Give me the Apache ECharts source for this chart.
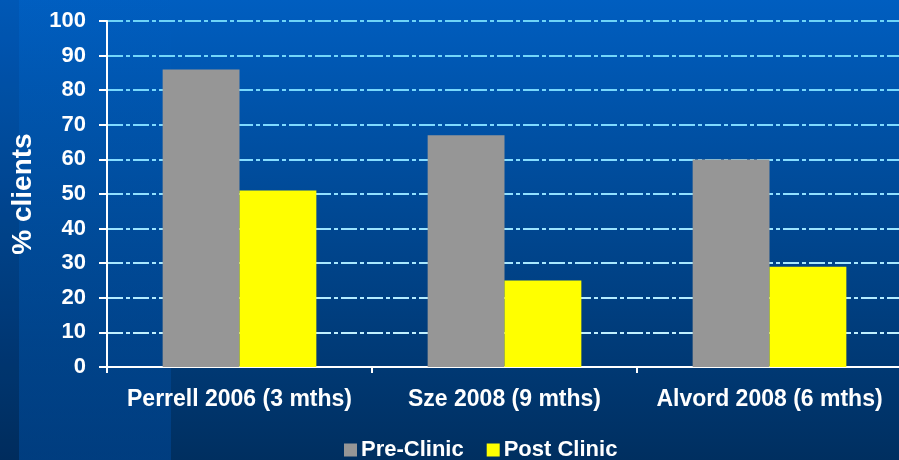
<!DOCTYPE html>
<html>
<head>
<meta charset="utf-8">
<script src="https://cdn.jsdelivr.net/npm/echarts@6/dist/echarts.min.js"></script>
<style>
  html, body { margin: 0; padding: 0; background: #00305f; }
  #chart { width: 899px; height: 460px; }
</style>
</head>
<body>
<div id="chart"></div>
<script>
// Study labels along the x axis
const studies = ['Perrell 2006 (3 mths)', 'Sze 2008 (9 mths)', 'Alvord 2008 (6 mths)'];
// Percentage of clients before and after the clinic
const preClinic = [86, 67, 60];
const postClinic = [51, 25, 29];
const seriesNames = ['Pre-Clinic', 'Post Clinic'];
// Y axis range
const yMin = 0;
const yMax = 100;
const yStep = 10;

// Dash-dot gridlines, brighter toward the bottom of the plot
const gridColors = ['#c8f2ff', '#c0f0ff', '#b4ecff', '#a8e8ff', '#9ce4ff', '#90e0ff', '#86ddff', '#7edaff', '#78d8fc', '#72d6fa', '#6ed4f8'];

const chart = echarts.init(document.getElementById('chart'), null, { renderer: 'canvas' });
const font = '"Liberation Sans", Arial, sans-serif';

chart.setOption({
  animation: false,
  backgroundColor: {
    type: 'linear', x: 0, y: 0, x2: 0, y2: 1,
    colorStops: [
      { offset: 0, color: '#005ec0' },
      { offset: 1, color: '#002f60' }
    ]
  },
  graphic: [
    {
      type: 'rect', z: -10, silent: true,
      shape: { x: 19, y: 0, width: 152, height: 460 },
      style: {
        fill: {
          type: 'linear', x: 0, y: 0, x2: 0, y2: 1,
          colorStops: [
            { offset: 0, color: 'rgba(0,100,200,0.04)' },
            { offset: 1, color: 'rgba(0,80,170,0.42)' }
          ]
        }
      }
    },
    {
      type: 'rect', z: -10, silent: true,
      shape: { x: 0, y: 0, width: 19, height: 460 },
      style: { fill: 'rgba(0,20,60,0.07)' }
    }
  ],
  grid: { left: 107, top: 21, right: -3, bottom: 93, containLabel: false, outerBoundsMode: 'none' },
  legend: {
    data: seriesNames,
    left: 339,
    top: 434,
    itemWidth: 13,
    itemHeight: 13,
    itemGap: 23,
    icon: 'rect',
    textStyle: { color: '#ffffff', fontSize: 22, fontWeight: 'bold', fontFamily: font, padding: [0, 0, 0, -1] }
  },
  xAxis: {
    type: 'category',
    data: studies,
    axisLine: { lineStyle: { color: '#ffffff', width: 2 } },
    axisTick: { show: true, length: 6, lineStyle: { color: '#ffffff', width: 2 } },
    axisLabel: { interval: 0, color: '#ffffff', fontSize: 23, fontWeight: 'bold', fontFamily: font, margin: 21 },
    splitLine: { show: false }
  },
  yAxis: {
    type: 'value',
    min: yMin,
    max: yMax,
    interval: yStep,
    name: '% clients',
    nameLocation: 'middle',
    nameGap: 70,
    nameRotate: 90,
    nameTextStyle: { color: '#ffffff', fontSize: 28, fontWeight: 'bold', fontFamily: font },
    axisLine: { show: true, lineStyle: { color: '#ffffff', width: 2 } },
    axisTick: { show: true, length: 8, lineStyle: { color: '#ffffff', width: 2 } },
    axisLabel: { color: '#ffffff', fontSize: 22, fontWeight: 'bold', fontFamily: font, margin: 21 },
    splitLine: {
      show: true,
      lineStyle: { color: gridColors, width: 2, type: [16, 3, 4, 3] }
    }
  },
  series: [
    {
      name: seriesNames[0],
      type: 'bar',
      data: preClinic,
      itemStyle: { color: '#969696' },
      barGap: '0%',
      barCategoryGap: '42%'
    },
    {
      name: seriesNames[1],
      type: 'bar',
      data: postClinic,
      itemStyle: { color: '#ffff00' },
      barGap: '0%',
      barCategoryGap: '42%'
    }
  ]
});
</script>
</body>
</html>
